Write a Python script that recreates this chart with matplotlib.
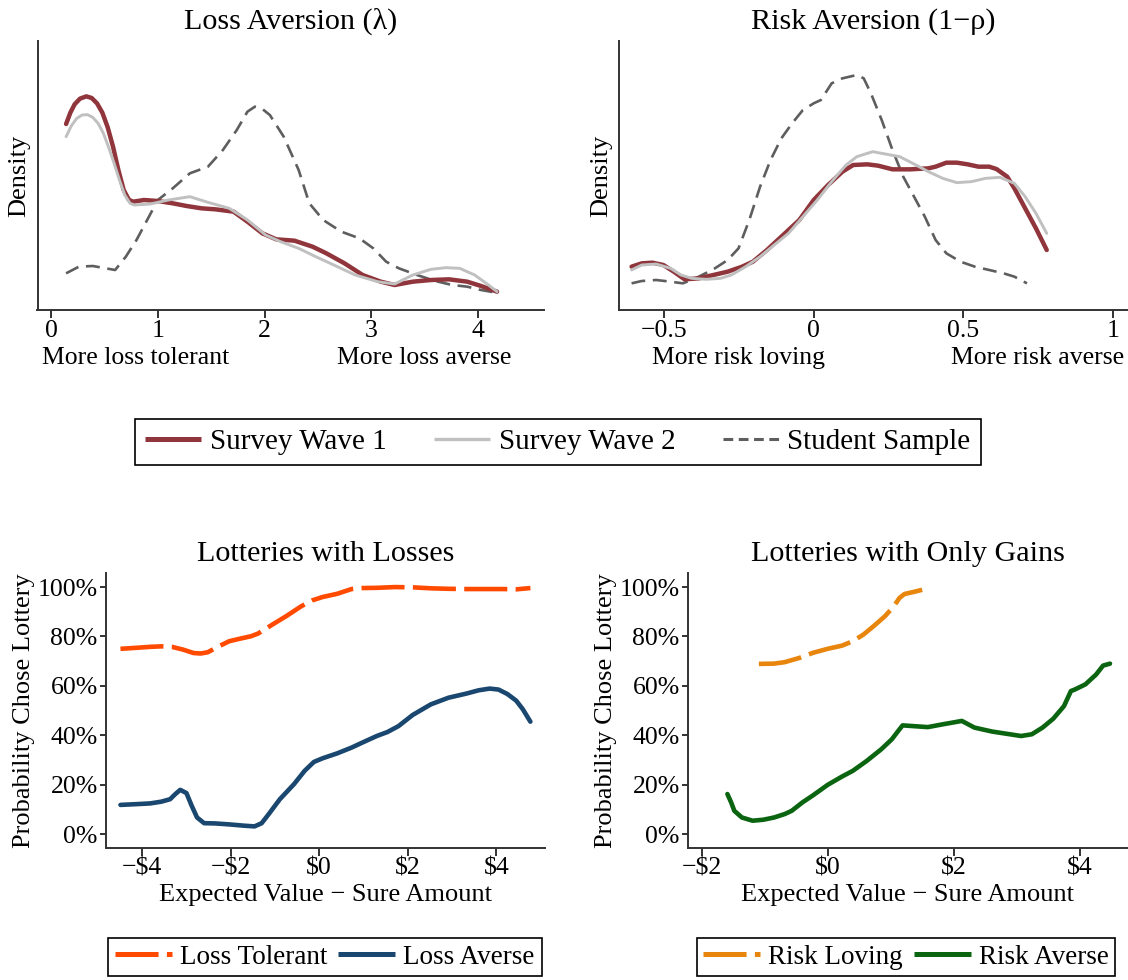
import matplotlib
matplotlib.use("Agg")
import matplotlib.pyplot as plt
from matplotlib.lines import Line2D
from matplotlib.ticker import FixedLocator, FixedFormatter

# ---------------- data ----------------
# Loss aversion (lambda) densities
lam_w1_x = [0.14, 0.18, 0.22, 0.27, 0.33, 0.38, 0.43, 0.48, 0.53, 0.58, 0.63, 0.68, 0.73, 0.77,
            0.87, 1.00, 1.14, 1.27, 1.41, 1.54, 1.71, 1.84, 1.98, 2.11, 2.28, 2.45, 2.58, 2.75,
            2.92, 3.09, 3.22, 3.39, 3.56, 3.73, 3.90, 4.03, 4.18]
lam_w1_y = [0.558, 0.592, 0.617, 0.634, 0.641, 0.636, 0.620, 0.592, 0.548, 0.490, 0.420, 0.360,
            0.330, 0.325, 0.330, 0.327, 0.320, 0.312, 0.305, 0.302, 0.295, 0.265, 0.230, 0.212,
            0.208, 0.190, 0.170, 0.140, 0.105, 0.085, 0.075, 0.085, 0.090, 0.092, 0.085, 0.072,
            0.055]
lam_w2_x = [0.14, 0.19, 0.24, 0.29, 0.34, 0.39, 0.44, 0.49, 0.54, 0.59, 0.64, 0.69, 0.74, 0.78,
            0.93, 1.10, 1.30, 1.47, 1.67, 1.84, 2.01, 2.15, 2.32, 2.48, 2.65, 2.85, 3.06, 3.22,
            3.39, 3.56, 3.70, 3.83, 3.97, 4.10, 4.18]
lam_w2_y = [0.520, 0.553, 0.575, 0.585, 0.586, 0.578, 0.560, 0.530, 0.487, 0.440, 0.390, 0.345,
            0.320, 0.315, 0.318, 0.330, 0.340, 0.323, 0.305, 0.270, 0.225, 0.205, 0.185, 0.160,
            0.135, 0.105, 0.085, 0.078, 0.105, 0.122, 0.127, 0.125, 0.105, 0.075, 0.055]
lam_st_x = [0.14, 0.26, 0.39, 0.60, 0.70, 0.80, 0.90, 1.00, 1.14, 1.30, 1.47, 1.61, 1.74, 1.84,
            1.91, 1.98, 2.05, 2.18, 2.32, 2.42, 2.55, 2.72, 2.89, 3.02, 3.14, 3.26, 3.43, 3.60,
            3.76, 3.90, 4.03, 4.17]
lam_st_y = [0.110, 0.130, 0.132, 0.120, 0.160, 0.210, 0.270, 0.330, 0.365, 0.410, 0.430, 0.480,
            0.540, 0.595, 0.610, 0.603, 0.585, 0.520, 0.420, 0.320, 0.270, 0.235, 0.215, 0.185,
            0.145, 0.125, 0.105, 0.087, 0.075, 0.070, 0.060, 0.052]

# Risk aversion (1 - rho) densities
rho_w1_x = [-0.608, -0.574, -0.538, -0.502, -0.467, -0.431, -0.383, -0.335, -0.287, -0.239,
            -0.203, -0.156, -0.096, -0.048, 0.000, 0.048, 0.096, 0.132, 0.179, 0.215, 0.263,
            0.323, 0.383, 0.407, 0.443, 0.478, 0.514, 0.550, 0.586, 0.610, 0.646, 0.670, 0.706,
            0.742, 0.778]
rho_w1_y = [0.130, 0.140, 0.142, 0.135, 0.115, 0.092, 0.095, 0.105, 0.115, 0.130, 0.145, 0.180,
            0.230, 0.270, 0.330, 0.375, 0.415, 0.435, 0.437, 0.433, 0.422, 0.422, 0.425, 0.430,
            0.442, 0.442, 0.437, 0.430, 0.430, 0.423, 0.400, 0.365, 0.305, 0.245, 0.180]
rho_w2_x = [-0.608, -0.574, -0.526, -0.478, -0.443, -0.407, -0.359, -0.311, -0.275, -0.227,
            -0.179, -0.132, -0.084, -0.036, 0.012, 0.060, 0.108, 0.144, 0.197, 0.239, 0.287,
            0.335, 0.383, 0.431, 0.478, 0.526, 0.574, 0.622, 0.670, 0.706, 0.742, 0.778]
rho_w2_y = [0.120, 0.135, 0.138, 0.125, 0.105, 0.095, 0.092, 0.095, 0.105, 0.130, 0.160, 0.195,
            0.230, 0.280, 0.330, 0.385, 0.435, 0.460, 0.475, 0.468, 0.460, 0.438, 0.415, 0.395,
            0.382, 0.385, 0.395, 0.398, 0.380, 0.340, 0.290, 0.230]
rho_st_x = [-0.608, -0.574, -0.526, -0.478, -0.437, -0.395, -0.335, -0.287, -0.251, -0.215,
            -0.179, -0.144, -0.108, -0.072, -0.036, 0.000, 0.024, 0.060, 0.096, 0.144, 0.167,
            0.191, 0.227, 0.263, 0.299, 0.335, 0.371, 0.407, 0.443, 0.490, 0.538, 0.586, 0.634,
            0.670, 0.712]
rho_st_y = [0.080, 0.087, 0.090, 0.085, 0.080, 0.095, 0.122, 0.150, 0.185, 0.270, 0.370, 0.450,
            0.515, 0.560, 0.600, 0.620, 0.630, 0.680, 0.695, 0.705, 0.695, 0.650, 0.570, 0.480,
            0.400, 0.340, 0.280, 0.210, 0.170, 0.145, 0.130, 0.120, 0.110, 0.100, 0.080]

# Lotteries with losses: P(chose lottery) vs EV - sure amount
loss_tol_x = [-4.49, -4.14, -3.82, -3.57, -3.33, -3.08, -2.84, -2.68, -2.52, -2.27, -2.03, -1.79,
              -1.54, -1.38, -1.06, -0.73, -0.41, -0.16, 0.08, 0.41, 0.73, 0.97, 1.30, 1.71, 2.11,
              2.52, 2.92, 3.33, 3.73, 4.14, 4.46, 4.77]
loss_tol_y = [0.750, 0.754, 0.758, 0.760, 0.758, 0.747, 0.733, 0.731, 0.736, 0.760, 0.781, 0.791,
              0.801, 0.812, 0.848, 0.884, 0.922, 0.946, 0.960, 0.973, 0.992, 0.996, 0.997, 1.000,
              0.999, 0.995, 0.993, 0.992, 0.992, 0.992, 0.991, 0.996]
loss_av_x = [-4.49, -4.14, -3.82, -3.57, -3.37, -3.25, -3.14, -3.00, -2.88, -2.76, -2.60, -2.35,
             -2.03, -1.71, -1.46, -1.30, -1.14, -0.89, -0.57, -0.33, -0.12, 0.08, 0.41, 0.73, 0.97,
             1.30, 1.54, 1.79, 2.11, 2.52, 2.92, 3.33, 3.60, 3.85, 4.05, 4.25, 4.45, 4.60, 4.77]
loss_av_y = [0.118, 0.121, 0.124, 0.131, 0.141, 0.162, 0.179, 0.166, 0.114, 0.067, 0.044, 0.043,
             0.039, 0.034, 0.031, 0.044, 0.081, 0.141, 0.202, 0.256, 0.292, 0.307, 0.327, 0.350,
             0.370, 0.397, 0.413, 0.437, 0.482, 0.525, 0.552, 0.569, 0.582, 0.589, 0.585, 0.567,
             0.540, 0.505, 0.455]

# Lotteries with only gains
risk_lov_x = [-1.09, -0.85, -0.68, -0.45, -0.23, 0.00, 0.23, 0.40, 0.57, 0.74, 0.91, 1.05, 1.14,
              1.22, 1.36, 1.50]
risk_lov_y = [0.689, 0.690, 0.696, 0.713, 0.734, 0.750, 0.763, 0.781, 0.808, 0.844, 0.882, 0.922,
              0.956, 0.972, 0.980, 0.989]
risk_av_x = [-1.59, -1.53, -1.48, -1.36, -1.19, -1.02, -0.85, -0.68, -0.57, -0.40, -0.23, 0.00,
             0.23, 0.40, 0.62, 0.85, 1.02, 1.14, 1.19, 1.36, 1.59, 1.82, 2.13, 2.33, 2.61, 2.84,
             3.07, 3.24, 3.41, 3.58, 3.75, 3.86, 3.92, 4.09, 4.26, 4.37, 4.48]
risk_av_y = [0.162, 0.128, 0.094, 0.067, 0.054, 0.058, 0.067, 0.081, 0.094, 0.128, 0.157, 0.199,
             0.233, 0.256, 0.296, 0.343, 0.384, 0.424, 0.440, 0.437, 0.433, 0.444, 0.458, 0.431,
             0.415, 0.406, 0.397, 0.404, 0.431, 0.467, 0.518, 0.579, 0.585, 0.606, 0.646, 0.682,
             0.690]

# Labels / ticks
titles = ["Loss Aversion (\u03bb)", "Risk Aversion (1\u2212\u03c1)",
          "Lotteries with Losses", "Lotteries with Only Gains"]
lam_ticks = [0, 1, 2, 3, 4]
lam_ticklabels = ["0", "1", "2", "3", "4"]
rho_ticks = [-0.5, 0, 0.5, 1]
rho_ticklabels = ["\u22120.5", "0", "0.5", "1"]
lam_ends = ["More loss tolerant", "More loss averse"]
rho_ends = ["More risk loving", "More risk averse"]
loss_ticks = [-4, -2, 0, 2, 4]
loss_ticklabels = ["\u2212\\$4", "\u2212\\$2", "\\$0", "\\$2", "\\$4"]
gain_ticks = [-2, 0, 2, 4]
gain_ticklabels = ["\u2212\\$2", "\\$0", "\\$2", "\\$4"]
pct_ticks = [0, 0.2, 0.4, 0.6, 0.8, 1.0]
pct_ticklabels = ["0%", "20%", "40%", "60%", "80%", "100%"]
top_series = ["Survey Wave 1", "Survey Wave 2", "Student Sample"]
loss_series = ["Loss Tolerant", "Loss Averse"]
gain_series = ["Risk Loving", "Risk Averse"]

# ---------------- style ----------------
plt.rcParams['font.family'] = ['Liberation Serif', 'DejaVu Serif']
plt.rcParams['lines.scale_dashes'] = False
plt.rcParams['lines.solid_joinstyle'] = 'round'
plt.rcParams['lines.dash_joinstyle'] = 'round'
FS_TITLE = 21.7
FS_TICK = 18.5
FS_LAB = 19
FS_LEG = 21
FS_LEG2 = 19.5
SPINE = '#333333'

C_W1 = '#90353B'
C_W2 = '#C0C0C0'
C_ST = '#5E5E5E'
C_LT = '#FF4A00'
C_LA = '#1A476F'
C_RL = '#E8850C'
C_RA = '#0A6410'

DASH_ST = (10, 5.5)
DASH_LD = (31, 6)

W, H = 1128, 980
fig = plt.figure(figsize=(W / 100, H / 100), dpi=100)


def add_ax(l, r, t, b):
    return fig.add_axes([l / W, 1 - b / H, (r - l) / W, (b - t) / H])


def style(ax, yticks=False):
    for s in ['top', 'right']:
        ax.spines[s].set_visible(False)
    for s in ['left', 'bottom']:
        ax.spines[s].set_color(SPINE)
        ax.spines[s].set_linewidth(1.4)
    ax.tick_params(axis='x', length=5.5, width=1.4, color=SPINE, pad=1.5,
                   labelsize=FS_TICK)
    if yticks:
        ax.tick_params(axis='y', length=4.5, width=1.4, color=SPINE, pad=1.5,
                       labelsize=FS_TICK)
    else:
        ax.tick_params(axis='y', left=False, labelleft=False)
    ax.patch.set_visible(False)


# ---- top-left: lambda ----
ax1 = add_ax(37.5, 544, 41, 310)
ax1.plot(lam_st_x, lam_st_y, color=C_ST, lw=1.9, dashes=DASH_ST)
ax1.plot(lam_w1_x, lam_w1_y, color=C_W1, lw=3.2, solid_capstyle='round')
ax1.plot(lam_w2_x, lam_w2_y, color=C_W2, lw=2.1, solid_capstyle='round')
ax1.set_xlim(-0.128, 4.62)
ax1.set_ylim(0, 0.807)
ax1.xaxis.set_major_locator(FixedLocator(lam_ticks))
ax1.xaxis.set_major_formatter(FixedFormatter(lam_ticklabels))
style(ax1)
ax1.set_ylabel("Density", fontsize=FS_LAB, labelpad=5)
ax1.set_title(titles[0], fontsize=FS_TITLE, pad=9)
for txt, xv in zip(lam_ends, [0.795, 3.496]):
    ax1.annotate(txt, xy=(xv, 0), xycoords=('data', 'axes fraction'),
                 xytext=(0, -48 * 0.72), textcoords='offset points',
                 ha='center', va='center', fontsize=FS_TICK)

# ---- top-right: rho ----
ax2 = add_ax(619, 1127, 41, 310)
ax2.plot(rho_st_x, rho_st_y, color=C_ST, lw=1.9, dashes=DASH_ST)
ax2.plot(rho_w1_x, rho_w1_y, color=C_W1, lw=3.2, solid_capstyle='round')
ax2.plot(rho_w2_x, rho_w2_y, color=C_W2, lw=2.1, solid_capstyle='round')
ax2.set_xlim(-0.650, 1.046)
ax2.set_ylim(0, 0.807)
ax2.xaxis.set_major_locator(FixedLocator(rho_ticks))
ax2.xaxis.set_major_formatter(FixedFormatter(rho_ticklabels))
style(ax2)
ax2.set_ylabel("Density", fontsize=FS_LAB, labelpad=5)
ax2.set_title(titles[1], fontsize=FS_TITLE, pad=9)
for txt, xv in zip(rho_ends, [-0.251, 0.746]):
    ax2.annotate(txt, xy=(xv, 0), xycoords=('data', 'axes fraction'),
                 xytext=(0, -48 * 0.72), textcoords='offset points',
                 ha='center', va='center', fontsize=FS_TICK)

# top legend
top_handles = [Line2D([], [], color=C_W1, lw=3.6, solid_capstyle='butt'),
               Line2D([], [], color=C_W2, lw=2.4, solid_capstyle='butt'),
               Line2D([], [], color=C_ST, lw=2.2, dashes=(7, 4))]
leg = fig.legend(top_handles, top_series, loc='center', ncol=3,
                 bbox_to_anchor=(558 / W, 1 - 442 / H), fontsize=FS_LEG,
                 frameon=True, fancybox=False, edgecolor='black', framealpha=1,
                 handlelength=1.9, handletextpad=0.3, columnspacing=1.65,
                 borderpad=0.35, borderaxespad=0)
leg.get_frame().set_linewidth(1.2)

# ---- bottom-left: losses ----
ax3 = add_ax(106, 545, 573, 848)
ax3.plot(loss_tol_x, loss_tol_y, color=C_LT, lw=3.3, dashes=DASH_LD, dash_capstyle='butt')
ax3.plot(loss_av_x, loss_av_y, color=C_LA, lw=3.3, solid_capstyle='round')
ax3.set_xlim(-4.817, 5.10)
ax3.set_ylim(-0.0565, 1.057)
ax3.xaxis.set_major_locator(FixedLocator(loss_ticks))
ax3.xaxis.set_major_formatter(FixedFormatter(loss_ticklabels))
ax3.yaxis.set_major_locator(FixedLocator(pct_ticks))
ax3.yaxis.set_major_formatter(FixedFormatter(pct_ticklabels))
style(ax3, yticks=True)
ax3.set_ylabel("Probability Chose Lottery", fontsize=FS_LAB, labelpad=2)
ax3.set_xlabel("Expected Value \u2212 Sure Amount", fontsize=FS_LAB, labelpad=3)
ax3.set_title(titles[2], fontsize=FS_TITLE, pad=9)

leg3 = ax3.legend([Line2D([], [], color=C_LT, lw=3.6, dashes=DASH_LD),
                   Line2D([], [], color=C_LA, lw=3.6, solid_capstyle='butt')],
                  loss_series, loc='center', ncol=2,
                  bbox_to_anchor=(325 / W, 1 - 957 / H), bbox_transform=fig.transFigure,
                  fontsize=FS_LEG2, frameon=True, fancybox=False, edgecolor='black',
                  framealpha=1, handlelength=2.1, handletextpad=0.3, columnspacing=0.4,
                  borderpad=0.25, borderaxespad=0)
leg3.get_frame().set_linewidth(1.2)

# ---- bottom-right: gains ----
ax4 = add_ax(688, 1127, 573, 848)
ax4.plot(risk_lov_x, risk_lov_y, color=C_RL, lw=3.3, dashes=DASH_LD, dash_capstyle='butt')
ax4.plot(risk_av_x, risk_av_y, color=C_RA, lw=3.3, solid_capstyle='round')
ax4.set_xlim(-2.215, 4.75)
ax4.set_ylim(-0.0565, 1.057)
ax4.xaxis.set_major_locator(FixedLocator(gain_ticks))
ax4.xaxis.set_major_formatter(FixedFormatter(gain_ticklabels))
ax4.yaxis.set_major_locator(FixedLocator(pct_ticks))
ax4.yaxis.set_major_formatter(FixedFormatter(pct_ticklabels))
style(ax4, yticks=True)
ax4.set_ylabel("Probability Chose Lottery", fontsize=FS_LAB, labelpad=2)
ax4.set_xlabel("Expected Value \u2212 Sure Amount", fontsize=FS_LAB, labelpad=3)
ax4.set_title(titles[3], fontsize=FS_TITLE, pad=9)

leg4 = ax4.legend([Line2D([], [], color=C_RL, lw=3.6, dashes=DASH_LD),
                   Line2D([], [], color=C_RA, lw=3.6, solid_capstyle='butt')],
                  gain_series, loc='center', ncol=2,
                  bbox_to_anchor=(906 / W, 1 - 957 / H), bbox_transform=fig.transFigure,
                  fontsize=FS_LEG2, frameon=True, fancybox=False, edgecolor='black',
                  framealpha=1, handlelength=2.1, handletextpad=0.3, columnspacing=0.4,
                  borderpad=0.25, borderaxespad=0)
leg4.get_frame().set_linewidth(1.2)

fig.savefig("out.png", dpi=100, facecolor='white')
